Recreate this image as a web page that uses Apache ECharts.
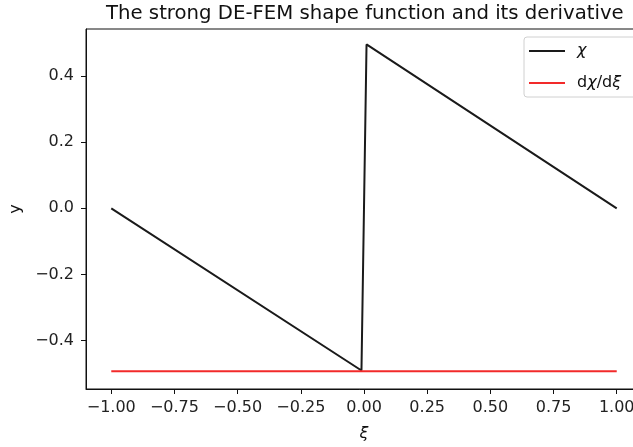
<!DOCTYPE html>
<html>
<head>
<meta charset="utf-8">
<script src="https://cdn.jsdelivr.net/npm/echarts@6/dist/echarts.min.js"></script>
<style>
  html, body { margin: 0; padding: 0; background: #fff; }
  #main { width: 633px; height: 447px; }
</style>
</head>
<body>
<div id="main"></div>
<script>
// chi: the strong DE-FEM shape function (jump at xi = 0)
const xiChi = [-1.0, -0.01, 0.01, 1.0];
const chi = [0.0, -0.49, 0.495, 0.0];
// its derivative, constant
const xiDchi = [-1.0, 1.0];
const dchi = [-0.492, -0.492];

const xTicks = [-1.0, -0.75, -0.5, -0.25, 0.0, 0.25, 0.5, 0.75, 1.0];
const yTicks = [-0.4, -0.2, 0.0, 0.2, 0.4];

const font = "DejaVu Sans";
const minus = (s) => s.replace("-", "\u2212");

const chart = echarts.init(document.getElementById("main"), null, { renderer: "canvas" });

chart.setOption({
  animation: false,
  backgroundColor: "#fff",
  title: {
    text: "The strong DE-FEM shape function and its derivative",
    left: 101,
    top: -1,
    textStyle: { fontFamily: font, fontSize: 19.7, fontWeight: "normal", color: "#111" },
  },
  grid: {
    left: 86,
    top: 29,
    width: 556,
    height: 360,
    outerBoundsMode: "none",
    containLabel: false,
    show: true,
    borderColor: "#111",
    borderWidth: 1,
    backgroundColor: "#fff",
  },
  legend: {
    orient: "vertical",
    left: 524,
    top: 37,
    padding: [6, 16, 6, 5],
    itemGap: 16,
    itemWidth: 36,
    itemHeight: 2,
    icon: "rect",
    borderColor: "#d0d0d0",
    borderWidth: 1,
    borderRadius: 3,
    backgroundColor: "#fff",
    data: ["χ", "dχ/dξ"],
    formatter: (name) => (name === "χ" ? "{s|}{i|χ}" : "{s|}{n|d}{i|χ}{n|/d}{i|ξ}"),
    textStyle: {
      fontFamily: font,
      fontSize: 16,
      color: "#111",
      rich: {
        s: { width: 7 },
        i: { fontFamily: font, fontStyle: "italic", fontSize: 16, color: "#111" },
        n: { fontFamily: font, fontSize: 16, color: "#111" },
      },
    },
  },
  xAxis: {
    type: "value",
    min: -1.1,
    max: 1.1,
    name: "ξ",
    nameLocation: "middle",
    nameGap: 37,
    nameTextStyle: { fontFamily: font, fontStyle: "italic", fontSize: 16, color: "#111" },
    splitLine: { show: false },
    axisLine: { show: true, onZero: false, lineStyle: { color: "#111", width: 1 } },
    axisTick: { show: true, length: 5, customValues: xTicks, lineStyle: { color: "#111" } },
    axisLabel: {
      customValues: xTicks,
      margin: 11,
      fontFamily: font,
      fontSize: 16,
      color: "#222",
      formatter: (v) => minus(v.toFixed(2)),
    },
  },
  yAxis: {
    type: "value",
    min: -0.546,
    max: 0.5417,
    name: "y",
    nameLocation: "middle",
    nameGap: 61,
    nameRotate: 90,
    nameTextStyle: { fontFamily: font, fontSize: 16, color: "#111" },
    splitLine: { show: false },
    axisLine: { show: true, onZero: false, lineStyle: { color: "#111", width: 1 } },
    axisTick: { show: true, length: 5, customValues: yTicks, lineStyle: { color: "#111" } },
    axisLabel: {
      customValues: yTicks,
      margin: 12,
      fontFamily: font,
      fontSize: 16,
      color: "#222",
      formatter: (v) => minus(v.toFixed(1)),
    },
  },
  series: [
    {
      name: "χ",
      type: "line",
      data: xiChi.map((x, i) => [x, chi[i]]),
      showSymbol: false,
      color: "#1a1a1a",
      lineStyle: { color: "#1a1a1a", width: 2 },
      z: 2,
    },
    {
      name: "dχ/dξ",
      type: "line",
      data: xiDchi.map((x, i) => [x, dchi[i]]),
      showSymbol: false,
      color: "#f22a2a",
      lineStyle: { color: "#f22a2a", width: 2 },
      z: 3,
    },
  ],
});
</script>
</body>
</html>
